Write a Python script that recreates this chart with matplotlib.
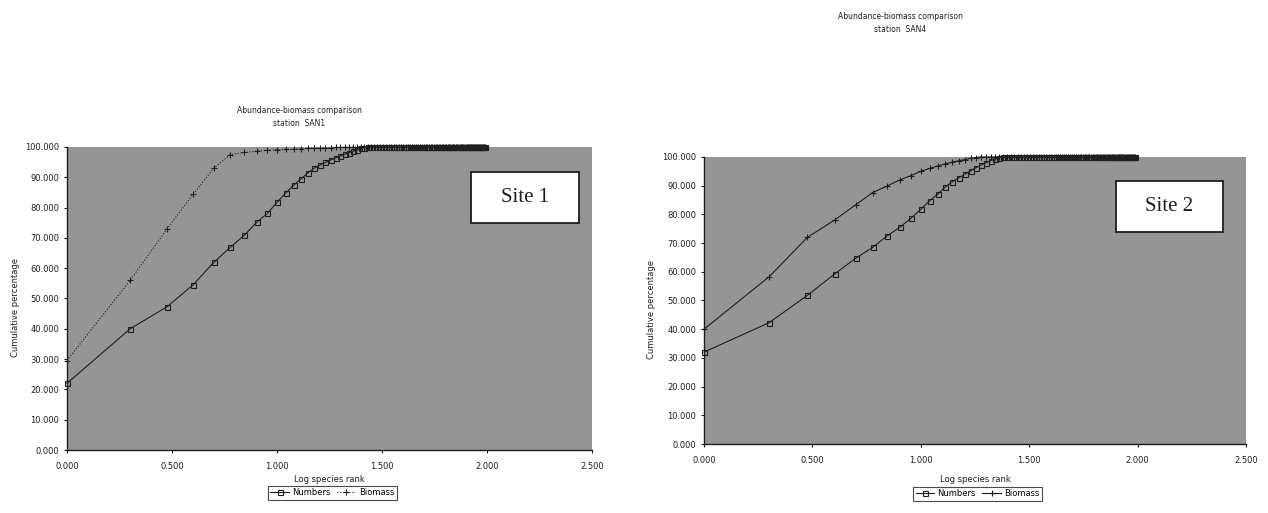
import numpy as np
import matplotlib.pyplot as plt
import matplotlib.patches as mpatches
from matplotlib.ticker import FormatStrFormatter
from matplotlib.lines import Line2D

# cumulative % by species rank, tail stays at 100
site1_species = 98
site1_numbers = [22.0, 40.0, 47.3, 54.6, 61.9, 66.9, 70.9, 75.1, 78.1, 81.7,
                 84.8, 87.4, 89.4, 91.4, 93.0, 94.0, 94.9, 95.7, 96.4, 97.0,
                 97.6, 98.1, 98.6, 99.1, 99.5, 99.8]
site1_biomass = [29.5, 56.0, 73.0, 84.5, 93.0, 97.5, 98.2, 98.6, 98.9, 99.1,
                 99.2, 99.3, 99.4, 99.5, 99.6, 99.7, 99.75, 99.8, 99.85, 99.9,
                 99.92, 99.95, 99.97, 99.98, 99.99]

site2_species = 97
site2_numbers = [32.0, 42.3, 51.8, 59.2, 64.7, 68.5, 72.5, 75.5, 78.6, 81.8,
                 84.8, 87.1, 89.6, 91.4, 92.8, 94.0, 95.2, 96.3, 97.2, 98.0,
                 98.7, 99.3, 99.7]
site2_biomass = [40.0, 58.3, 72.0, 78.0, 83.3, 87.6, 89.9, 92.0, 93.5, 95.0,
                 96.0, 96.9, 97.6, 98.2, 98.7, 99.1, 99.5, 99.8]

titles = ["Abundance-biomass comparison\nstation  SAN1",
          "Abundance-biomass comparison\nstation  SAN4"]
site_labels = ["Site 1", "Site 2"]
y_ticks = [0, 10, 20, 30, 40, 50, 60, 70, 80, 90, 100]
x_ticks = [0.0, 0.5, 1.0, 1.5, 2.0, 2.5]


def pad(values, n):
    return np.array(values + [100.0] * (n - len(values)))


ink = '#1e1e1e'
plot_bg = '#959595'

fig = plt.figure(figsize=(12.68, 5.13), dpi=100)
fig.patch.set_facecolor('white')

panels = [
    dict(rect=[0.0528, 0.1228, 0.4141, 0.5907], n=site1_species,
         num=site1_numbers, bio=site1_biomass, bio_ls=':',
         title_xy=(0.236, 0.772), box=(471, 172, 108, 51),
         ylab_x=0.012, xlab_y=0.066, leg=(0.262, 0.018)),
    dict(rect=[0.5552, 0.1345, 0.4274, 0.5595], n=site2_species,
         num=site2_numbers, bio=site2_biomass, bio_ls='-',
         title_xy=(0.710, 0.955), box=(1116, 181, 107, 51),
         ylab_x=0.514, xlab_y=0.066, leg=(0.771, 0.016)),
]

for i, p in enumerate(panels):
    ax = fig.add_axes(p['rect'])
    ax.set_facecolor(plot_bg)
    ranks = np.arange(1, p['n'] + 1)
    x = np.log10(ranks)
    ax.plot(x, pad(p['num'], p['n']), color=ink, lw=0.8, marker='s',
            ms=3.6, mfc='none', mec=ink, mew=0.8, clip_on=False)
    ax.plot(x, pad(p['bio'], p['n']), color=ink, lw=0.8, ls=p['bio_ls'],
            marker='+', ms=4.5, mew=0.8, clip_on=False)

    ax.set_xlim(0, 2.5)
    ax.set_ylim(0, 100)
    ax.set_xticks(x_ticks)
    ax.set_yticks(y_ticks)
    ax.xaxis.set_major_formatter(FormatStrFormatter('%.3f'))
    ax.yaxis.set_major_formatter(FormatStrFormatter('%.3f'))
    ax.tick_params(labelsize=6, colors=ink, length=2.5, width=0.8, pad=3)
    ax.tick_params(axis='x', pad=6)
    for side in ['top', 'right']:
        ax.spines[side].set_visible(False)
    for side in ['left', 'bottom']:
        ax.spines[side].set_color(ink)
        ax.spines[side].set_linewidth(1.0)

    # titles and axis labels placed like the scanned pages
    fig.text(p['title_xy'][0], p['title_xy'][1], titles[i], ha='center',
             va='center', fontsize=5.5, color=ink, linespacing=1.5)
    fig.text(p['ylab_x'], p['rect'][1] + p['rect'][3] * 0.47,
             'Cumulative percentage', rotation=90, ha='center', va='center',
             fontsize=6, color=ink)
    fig.text(p['rect'][0] + p['rect'][2] / 2, p['xlab_y'], 'Log species rank',
             ha='center', va='center', fontsize=6, color=ink)

    # "Site" box
    bx, by, bw, bh = p['box']
    rect = mpatches.Rectangle((bx / 1268, 1 - (by + bh) / 513), bw / 1268,
                              bh / 513, transform=fig.transFigure,
                              facecolor='white', edgecolor=ink, lw=1.3)
    fig.patches.append(rect)
    fig.text((bx + bw / 2) / 1268, 1 - (by + bh / 2) / 513, site_labels[i],
             ha='center', va='center', fontsize=15, color=ink,
             family='Liberation Serif')

    handles = [
        Line2D([], [], color=ink, lw=0.8, marker='s', ms=3.6, mfc='none',
               mec=ink, mew=0.8, label='Numbers'),
        Line2D([], [], color=ink, lw=0.8, ls=p['bio_ls'], marker='+',
               ms=4.5, mew=0.8, label='Biomass'),
    ]
    leg = fig.legend(handles=handles, loc='lower center',
                     bbox_to_anchor=p['leg'], ncol=2, fontsize=6,
                     frameon=True, fancybox=False, handlelength=2.2,
                     columnspacing=0.8, handletextpad=0.4, borderpad=0.3)
    leg.get_frame().set_edgecolor(ink)
    leg.get_frame().set_linewidth(0.8)

fig.savefig('out.png', dpi=100, facecolor='white')
